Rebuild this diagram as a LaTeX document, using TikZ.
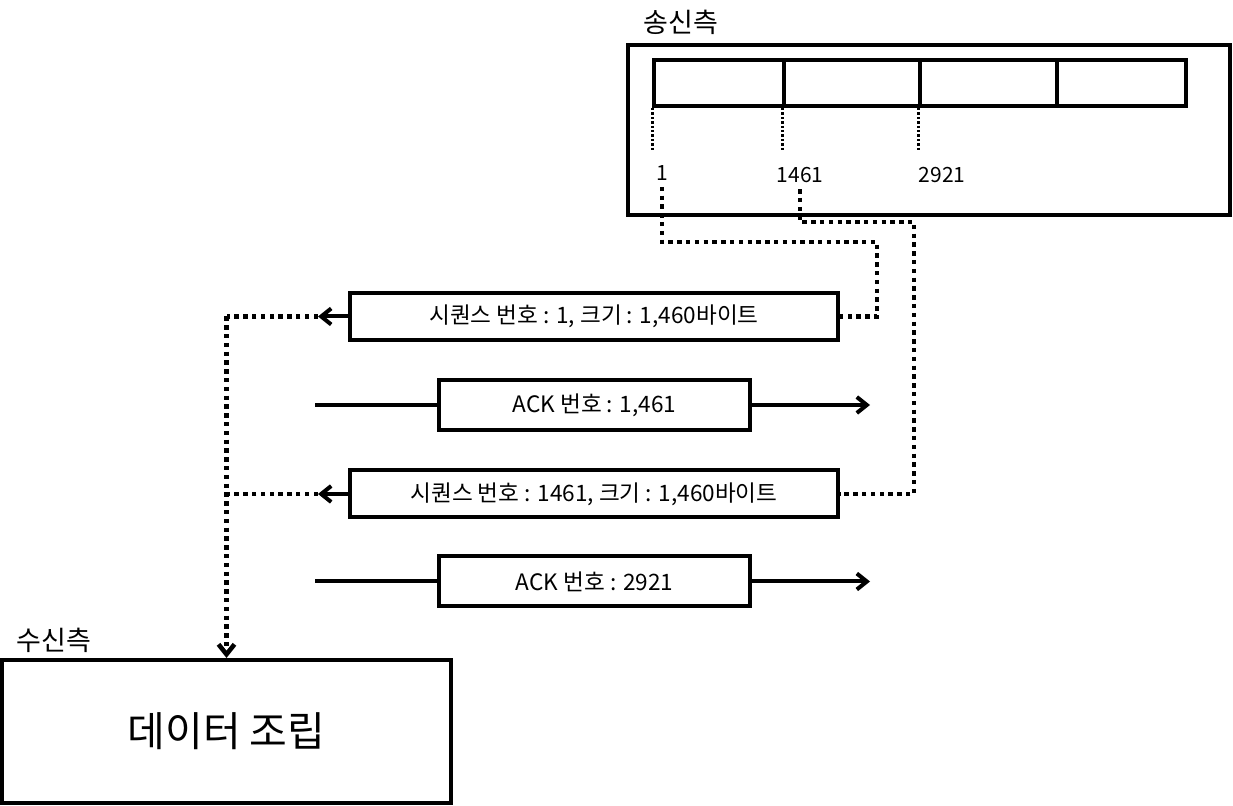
\documentclass[tikz,border=0pt]{standalone}
\usepackage{fontspec}
\setmainfont{Noto Sans CJK KR}
\usetikzlibrary{arrows.meta}

\begin{document}
\begin{tikzpicture}[x=0.5pt,y=-0.5pt,
	box/.style={draw, line width=2pt, inner sep=0pt},
	cell/.style={draw, line width=2pt, minimum height=23pt, inner sep=0pt},
	tick/.style={line width=1.5pt, dash pattern=on 1.2pt off 1pt},
	link/.style={line width=2.3pt, dash pattern=on 2.2pt off 2.2pt},
	pile/.style={line width=2pt, -{Straight Barb[length=5pt,width=8pt]}},
	lbl/.style={font=\fontsize{13.5}{16}\selectfont, inner sep=0pt},
	num/.style={font=\fontsize{10.5}{13}\selectfont, inner sep=3pt},
	msg/.style={box, font=\fontsize{11.3}{13}\selectfont}]

	\useasboundingbox (0,0) rectangle (1233,806);

	% Sender
	\node[lbl] (sendlbl) at (681,22) {송신측};
	\node[box, minimum width=301pt, minimum height=85pt] (sender) at (929,130) {};
	\foreach \i/\x/\w in {1/719/65, 2/852/68, 3/988.5/68.5, 4/1121.5/64.5}
		\node[cell, minimum width=\w pt] (c\i) at (\x,83) {};
	\foreach \i in {1,2,3}
		\draw[tick] (c\i.south west) -- ++(0,44);
	\node[num] (n1) at (662,173) {1};
	\node[num] (n2) at (800,175) {1461};
	\node[num] (n3) at (942,175) {2921};

	% Segments
	\node[msg, minimum width=244pt, minimum height=23.5pt] (s1) at (594,316.5) {시퀀스 번호 : 1, 크기 : 1,460바이트};
	\node[msg, minimum width=155.5pt, minimum height=25pt] (ack1) at (594.5,405) {ACK 번호 : 1,461};
	\node[msg, minimum width=244pt, minimum height=23.5pt] (s2) at (594,494) {시퀀스 번호 : 1461, 크기 : 1,460바이트};
	\node[msg, minimum width=155.5pt, minimum height=25pt] (ack2) at (594.5,581.5) {ACK 번호 : 2921};

	% Receiver
	\node[lbl] (recvlbl) at (54,640) {수신측};
	\node[box, minimum width=224.5pt, minimum height=71.5pt, font=\fontsize{20.5}{24}\selectfont] (recv) at (226.5,731.5) {데이터 조립};

	% Sender to segments
	\coordinate (k1) at (877,242);
	\coordinate (k2) at (914,222);
	\draw[link] (n1.south) |- (k1) |- (s1.east);
	\draw[link] (n2.south) |- (k2) |- (s2.east);

	% Segments to receiver
	\coordinate (t1) at (318,316.5);
	\coordinate (t2) at (318,494);
	\coordinate (j1) at (recv.north |- s1.west);
	\coordinate (j2) at (recv.north |- s2.west);
	\draw[pile] (s1.west) -- (t1);
	\draw[pile] (s2.west) -- (t2);
	\draw[link] (t1) -- (j1);
	\draw[link] (t2) -- (j2);
	\draw[link, -{Straight Barb[length=5pt,width=8pt]}] (j1) -- (recv.north);

	% ACKs
	\coordinate (p1) at (315,405);
	\coordinate (q1) at (870,405);
	\coordinate (p2) at (315,581.5);
	\coordinate (q2) at (870,581.5);
	\draw[line width=2pt] (p1) -- (ack1.west);
	\draw[pile] (ack1.east) -- (q1);
	\draw[line width=2pt] (p2) -- (ack2.west);
	\draw[pile] (ack2.east) -- (q2);

\end{tikzpicture}
\end{document}
